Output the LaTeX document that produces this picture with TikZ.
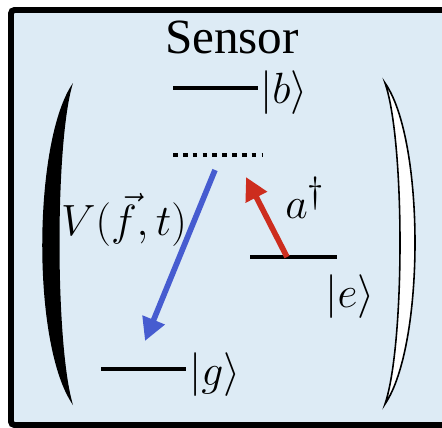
\documentclass[tikz,border=0pt]{standalone}
\usepackage{fontspec}
\setmainfont{Liberation Serif}
\usepackage{xcolor}
\usepackage{tikz}
\usetikzlibrary{arrows.meta, positioning}

\definecolor{sensorbg}{RGB}{221,235,245}
\definecolor{uppump}{RGB}{205,45,30}
\definecolor{downsig}{RGB}{70,92,208}

\begin{document}
\begin{tikzpicture}[x=0.02cm, y=-0.02cm,
		level/.style={line width=2.3pt},
		virtual/.style={line width=2.3pt, dash pattern=on 2.7pt off 2.9pt},
		ket/.style={inner sep=0pt, font=\fontsize{25}{25}\selectfont},
		trans/.style={line width=3.2pt, -{Triangle[width=13pt, length=13pt]}}]

	\useasboundingbox (0,0) rectangle (442,427);
	\draw[line width=3.4pt, fill=sensorbg, rounded corners=2pt] (11,10) rectangle (470,425);

	\node[inner sep=0pt] (title) at (232,37) {\fontsize{28}{30}\selectfont Sensor};

	% big brackets
	\fill (73,83) .. controls (33,140) and (31,345) .. (73,405)
		.. controls (55,345) and (55,140) .. (73,83) -- cycle;
	\draw[line width=0.9pt, fill=white] (385,83) .. controls (425,140) and (425,345) .. (385,404)
		.. controls (405,345) and (405,140) .. (385,83) -- cycle;

	% levels
	\coordinate (b1) at (173,88);  \coordinate (b2) at (258,88);
	\coordinate (v1) at (173,155); \coordinate (v2) at (262,155);
	\coordinate (e1) at (250,257); \coordinate (e2) at (337,257);
	\coordinate (g1) at (101,369); \coordinate (g2) at (186,369);

	\draw[level] (b1) -- (b2);
	\draw[virtual] (v1) -- (v2);
	\draw[level] (e1) -- (e2);
	\draw[level] (g1) -- (g2);

	\node[ket, anchor=west] (kb) at (260,93) {$|b\rangle$};
	\node[ket, anchor=west] (ke) at (325,297) {$|e\rangle$};
	\node[ket, anchor=west] (kg) at (189,375) {$|g\rangle$};

	% transitions
	\coordinate (vs) at (215,170);
	\coordinate (gs) at (145,341);
	\coordinate (es) at (287,257);
	\coordinate (ve) at (246,177);

	\draw[trans, downsig] (vs) -- (gs);
	\draw[trans, uppump] (es) -- (ve);

	\node[ket] (sig) at (124,220) {$V(\vec{f},t)$};
	\node[ket, anchor=west, font=\fontsize{30}{30}\selectfont] (pump) at (285,198) {$a^\dagger$};

\end{tikzpicture}
\end{document}
